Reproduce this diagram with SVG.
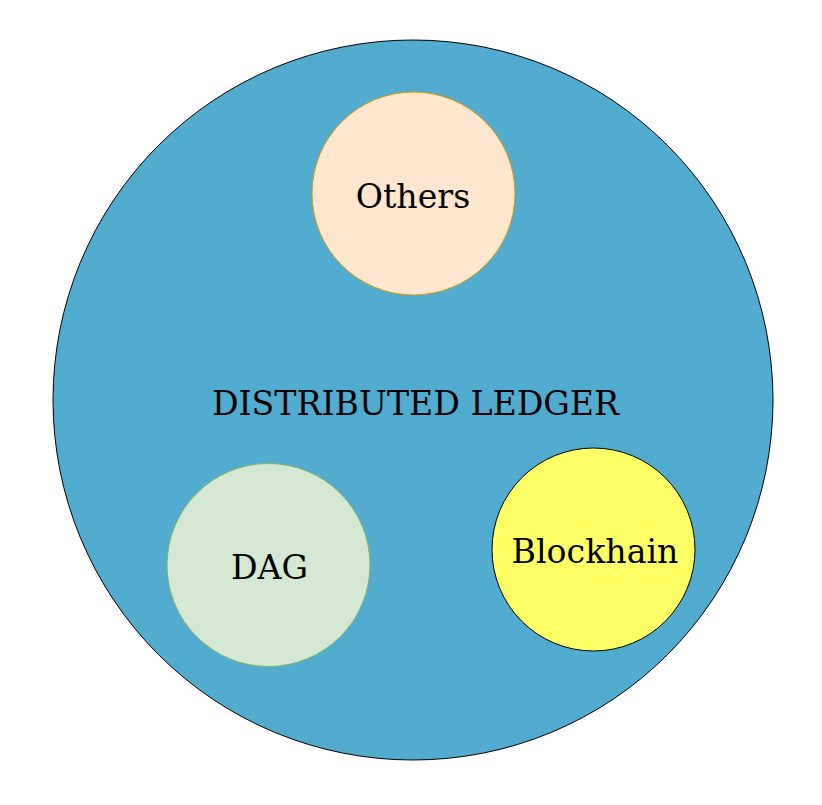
<svg xmlns="http://www.w3.org/2000/svg" width="822" height="805" viewBox="0 0 822 805">
<style>
text{font-family:"DejaVu Serif",serif;font-size:33.2px;fill:#000;text-anchor:middle}
.c{stroke-width:1}
</style>
<rect width="822" height="805" fill="#fff"/>
<g id="ledger">
<circle class="c" cx="413" cy="400" r="360" fill="#52acd0" stroke="#000"/>
<text x="415.5" y="415">DISTRIBUTED LEDGER</text>
</g>
<g id="others">
<circle class="c" cx="413.5" cy="193.5" r="101.5" fill="#ffe6cf" stroke="#d79b00"/>
<text x="413" y="208">Others</text>
</g>
<g id="dag">
<circle class="c" cx="268.5" cy="565" r="101.5" fill="#d5e8d4" stroke="#82b366"/>
<text x="269.5" y="579">DAG</text>
</g>
<g id="blockhain">
<circle class="c" cx="593.5" cy="549.5" r="101.5" fill="#ffff66" stroke="#000"/>
<text x="595" y="563">Blockhain</text>
</g>
<g id="connectors"></g>
</svg>
